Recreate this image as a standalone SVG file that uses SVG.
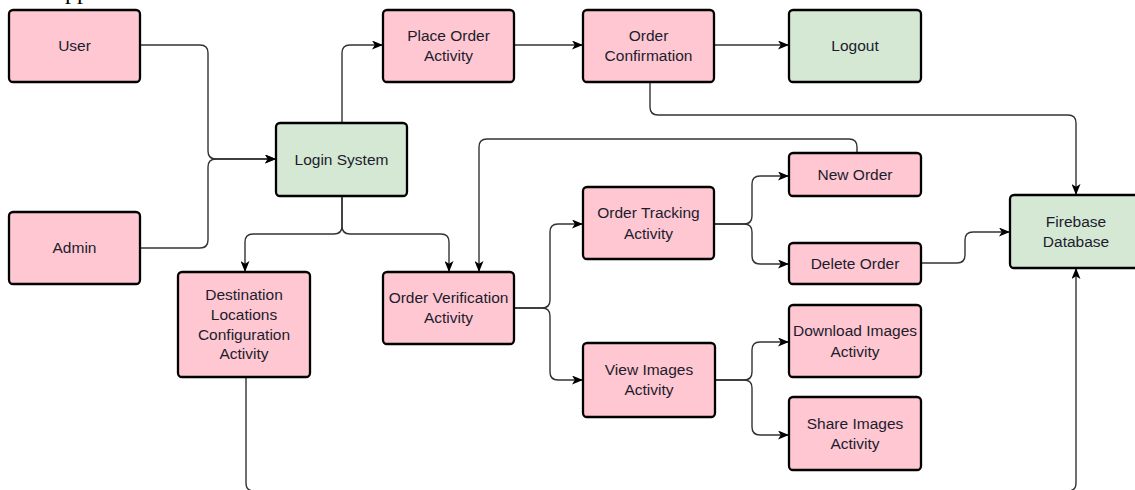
<svg xmlns="http://www.w3.org/2000/svg" width="1135" height="490" viewBox="0 0 1135 490">
<defs>
<marker id="arr" viewBox="0 0 11 9" refX="11" refY="4.5" markerWidth="11" markerHeight="9" markerUnits="userSpaceOnUse" orient="auto">
<path d="M0,0 L11,4.5 L0,9 L2.8,4.5 z" fill="#000"/>
</marker>
<style>
.pink{fill:#FFC7D1;stroke:#000;stroke-width:2.3}
.green{fill:#D5E8D4;stroke:#000;stroke-width:2.3}
.t{font-family:"Liberation Sans",Arial,sans-serif;font-size:15.5px;fill:#1c1c2e;text-anchor:middle}
.c{fill:none;stroke:#333;stroke-width:1.4;marker-end:url(#arr)}
</style>
</defs>
<rect width="1135" height="490" fill="#fff"/>
<text x="65" y="-1" font-family="Liberation Serif,serif" font-size="24" fill="#000">pp</text>
<g id="connectors">
<path class="c" d="M140,45 H200 Q208,45 208,53 V151 Q208,159 216,159 H276"/>
<path class="c" d="M140,248 H200 Q208,248 208,240 V167 Q208,159 216,159 H276"/>
<path class="c" d="M342,123 V53 Q342,45 350,45 H383"/>
<path class="c" d="M514,45 H583"/>
<path class="c" d="M714,45 H789"/>
<path class="c" d="M650,82 V107 Q650,115 658,115 H1068 Q1076,115 1076,123 V195"/>
<path class="c" d="M342,196 V226 Q342,234 334,234 H253 Q245,234 245,242 V272"/>
<path class="c" d="M342,196 V226 Q342,234 350,234 H441 Q449,234 449,242 V272"/>
<path class="c" d="M857,153 V147 Q857,139 849,139 H487 Q479,139 479,147 V272"/>
<path class="c" d="M514,308 H542 Q550,308 550,300 V232 Q550,224 558,224 H583"/>
<path class="c" d="M514,308 H542 Q550,308 550,316 V372 Q550,380 558,380 H583"/>
<path class="c" d="M714,224 H744 Q752,224 752,216 V184 Q752,176 760,176 H789"/>
<path class="c" d="M714,224 H744 Q752,224 752,232 V256 Q752,264 760,264 H789"/>
<path class="c" d="M715,380 H744 Q752,380 752,372 V350 Q752,342 760,342 H789"/>
<path class="c" d="M715,380 H744 Q752,380 752,388 V427 Q752,435 760,435 H789"/>
<path class="c" d="M921,263 H957 Q965,263 965,255 V240 Q965,232 973,232 H1010"/>
<path class="c" d="M246,377 V483 Q246,491 254,491 H1068 Q1076,491 1076,483 V268"/>
</g>
<g id="user"><rect class="pink" x="9" y="10" width="131" height="72" rx="4"/><text class="t" x="74.5" y="51">User</text></g>
<g id="admin"><rect class="pink" x="9" y="212" width="131" height="72" rx="4"/><text class="t" x="74.5" y="253">Admin</text></g>
<g id="login"><rect class="green" x="276" y="123" width="131" height="73" rx="4"/><text class="t" x="341.5" y="165">Login System</text></g>
<g id="place-order"><rect class="pink" x="383" y="10" width="131" height="72" rx="4"/><text class="t" x="448.5" y="41">Place Order</text><text class="t" x="448.5" y="61">Activity</text></g>
<g id="order-confirmation"><rect class="pink" x="583" y="10" width="131" height="72" rx="4"/><text class="t" x="648.5" y="41">Order</text><text class="t" x="648.5" y="61">Confirmation</text></g>
<g id="logout"><rect class="green" x="789" y="10" width="132" height="72" rx="4"/><text class="t" x="855" y="51">Logout</text></g>
<g id="new-order"><rect class="pink" x="789" y="153" width="132" height="43" rx="4"/><text class="t" x="855" y="180">New Order</text></g>
<g id="order-tracking"><rect class="pink" x="583" y="187" width="131" height="72" rx="4"/><text class="t" x="648.5" y="218">Order Tracking</text><text class="t" x="648.5" y="239">Activity</text></g>
<g id="delete-order"><rect class="pink" x="789" y="243" width="132" height="41" rx="4"/><text class="t" x="855" y="269">Delete Order</text></g>
<g id="destination"><rect class="pink" x="178" y="272" width="132" height="105" rx="4"/><text class="t" x="244" y="300">Destination</text><text class="t" x="244" y="320">Locations</text><text class="t" x="244" y="340">Configuration</text><text class="t" x="244" y="359">Activity</text></g>
<g id="order-verification"><rect class="pink" x="383" y="272" width="131" height="72" rx="4"/><text class="t" x="448.5" y="303">Order Verification</text><text class="t" x="448.5" y="323">Activity</text></g>
<g id="view-images"><rect class="pink" x="583" y="343" width="132" height="74" rx="4"/><text class="t" x="649" y="375">View Images</text><text class="t" x="649" y="395">Activity</text></g>
<g id="download-images"><rect class="pink" x="789" y="305" width="132" height="72" rx="4"/><text class="t" x="855" y="336">Download Images</text><text class="t" x="855" y="357">Activity</text></g>
<g id="share-images"><rect class="pink" x="789" y="397" width="132" height="73" rx="4"/><text class="t" x="855" y="429">Share Images</text><text class="t" x="855" y="449">Activity</text></g>
<g id="firebase"><rect class="green" x="1010" y="195" width="132" height="73" rx="4"/><text class="t" x="1076" y="227">Firebase</text><text class="t" x="1076" y="247">Database</text></g>
</svg>
